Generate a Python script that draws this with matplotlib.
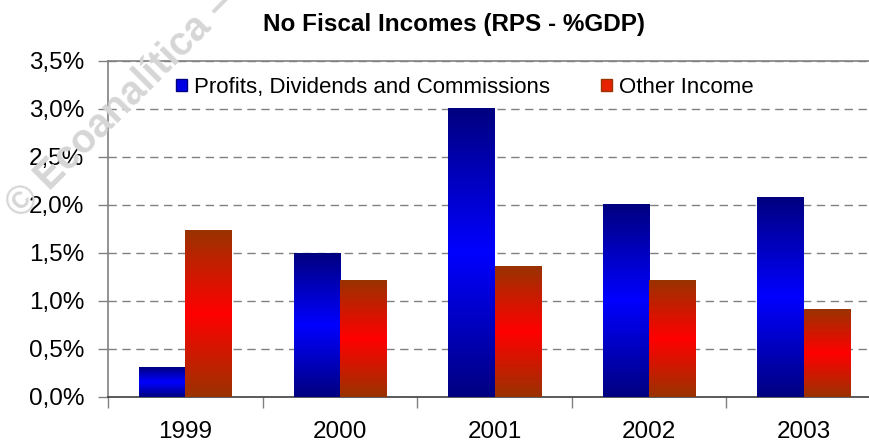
import numpy as np
import matplotlib
matplotlib.use("Agg")
import matplotlib.pyplot as plt
from matplotlib.colors import LinearSegmentedColormap
from matplotlib.patches import Patch
from matplotlib.ticker import FuncFormatter, MultipleLocator, FixedLocator

plt.rcParams['font.family'] = ['Liberation Sans', 'DejaVu Sans']

years = ["1999", "2000", "2001", "2002", "2003"]
profits = [0.31, 1.49, 3.01, 2.01, 2.08]
other = [1.73, 1.21, 1.36, 1.21, 0.91]
series_names = ["Profits, Dividends and Commissions", "Other Income"]
title = "No Fiscal Incomes (RPS - %GDP)"

W, H = 869, 447
fig = plt.figure(figsize=(W / 100, H / 100), dpi=100)
ax = fig.add_axes([108 / W, (H - 397) / H, (881 - 108) / W, (397 - 61) / H])
ax.set_facecolor('none')

x = np.arange(len(years))
bw = 0.3
b1 = ax.bar(x - bw / 2, profits, bw, color='none', edgecolor='none', zorder=3)
b2 = ax.bar(x + bw / 2, other, bw, color='none', edgecolor='none', zorder=3)

cm_blue = LinearSegmentedColormap.from_list('b', ['#0000FF', '#000080'])
cm_red = LinearSegmentedColormap.from_list('r', ['#FF0000', '#993300'])
grad = np.abs(np.linspace(-1, 1, 256)).reshape(-1, 1)
for bars, cm in ((b1, cm_blue), (b2, cm_red)):
    for p in bars:
        x0, y0, w, h = p.get_x(), p.get_y(), p.get_width(), p.get_height()
        ax.imshow(grad, extent=[x0, x0 + w, y0, y0 + h], aspect='auto',
                  cmap=cm, vmin=0, vmax=1, zorder=3, interpolation='bilinear')

ax.set_xlim(-0.5, len(years) - 0.5)
ax.set_ylim(0, 3.5)
ax.yaxis.set_major_locator(MultipleLocator(0.5))
ax.yaxis.set_major_formatter(FuncFormatter(lambda v, p: f"{v:.1f}%".replace('.', ',')))
ax.grid(axis='y', color='#808080', linestyle=(0, (6, 4)), linewidth=1.0, zorder=1)

ax.xaxis.set_major_locator(FixedLocator(np.arange(-0.5, len(years), 1.0)))
ax.xaxis.set_major_formatter(FuncFormatter(lambda v, p: ""))
ax.xaxis.set_minor_locator(FixedLocator(x))
ax.set_xticklabels(years, minor=True)
ax.tick_params(axis='x', which='major', length=8, width=1, color='#808080', direction='out')
ax.tick_params(axis='x', which='minor', length=0, pad=17, labelsize=17.5)
ax.tick_params(axis='y', length=7, width=1, color='#808080', labelsize=17.5, pad=10)

for s in ('left', 'bottom', 'top'):
    ax.spines[s].set_color('#808080')
    ax.spines[s].set_linewidth(1.2)
ax.spines['bottom'].set_color('#404040')
ax.spines['right'].set_visible(False)

handles = [Patch(facecolor='#0000E6', edgecolor='#000080'),
           Patch(facecolor='#E62200', edgecolor='#993300')]
ax.legend(handles, series_names, loc='upper left', bbox_to_anchor=(176 / W, 1 - 77 / H),
          bbox_transform=fig.transFigure, ncol=2, frameon=False, fontsize=16,
          handlelength=0.5, handleheight=0.5, handletextpad=0.3, columnspacing=2.3,
          borderpad=0, borderaxespad=0)

fig.text(454 / W, 1 - 24 / H, title, ha='center', va='center', fontsize=17.5,
         fontweight='bold')

fig.text(21 / W, 1 - 220 / H, "© Ecoanalítica – www.ecoanalitica.net", rotation=45,
         rotation_mode='anchor', ha='left', va='baseline', fontsize=28.5,
         fontweight='bold', color='#d6d6d6', zorder=0, transform=fig.transFigure)

fig.savefig("out.png", dpi=100)
